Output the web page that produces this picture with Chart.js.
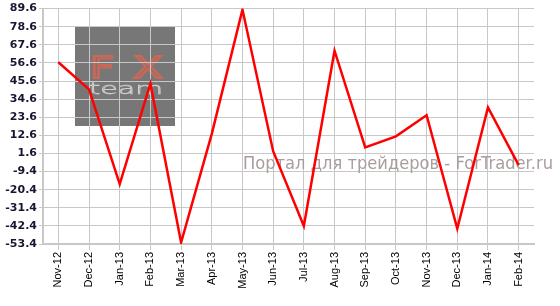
<!DOCTYPE html>
<html>
<head>
<meta charset="utf-8">
<script src="https://cdn.jsdelivr.net/npm/chart.js@4"></script>
<style>
  html, body { margin: 0; padding: 0; background: #fff; }
  #wrap { width: 560px; height: 306px; position: relative; }
</style>
</head>
<body>
<div id="wrap"><canvas id="chart"></canvas></div>
<script>
// months shown on the x axis
const months = ['Nov-12','Dec-12','Jan-13','Feb-13','Mar-13','Apr-13','May-13','Jun-13',
  'Jul-13','Aug-13','Sep-13','Oct-13','Nov-13','Dec-13','Jan-14','Feb-14'];
// monthly values
const values = [57, 40.5, -17, 44, -52.5, 13.5, 89, 3, -42.5, 64, 5.3, 12, 24.8, -44, 29.5, -5.5];
// y axis tick labels
const yTicks = [-53.4, -42.4, -31.4, -20.4, -9.4, 1.6, 12.6, 23.6, 34.6, 45.6, 56.6, 67.6, 78.6, 89.6];
const watermark = 'Портал для трейдеров - ForTrader.ru';

// stretch a stroked word into a box
function strokeFit(ctx, text, x, y, w, h, font, color, lw) {
  ctx.save();
  ctx.font = font;
  const m = ctx.measureText(text);
  const th = m.actualBoundingBoxAscent + m.actualBoundingBoxDescent;
  ctx.translate(x - m.actualBoundingBoxLeft * w / m.width, y);
  ctx.scale(w / m.width, h / th);
  ctx.strokeStyle = color;
  ctx.lineWidth = lw;
  ctx.strokeText(text, 0, 0);
  ctx.restore();
}

// gray logo box behind the grid, site name over the plot
const logoPlugin = {
  id: 'logo',
  beforeDraw(chart) {
    const ctx = chart.ctx;
    ctx.save();
    ctx.fillStyle = '#777777';
    ctx.fillRect(75, 26, 100, 100);
    ctx.restore();
    strokeFit(ctx, 'F', 87, 78, 24, 22, '40px "DejaVu Sans"', 'rgba(220,100,80,0.85)', 2.6);
    strokeFit(ctx, 'X', 132, 78, 30, 22, '40px "DejaVu Sans"', 'rgba(220,100,80,0.85)', 2.6);
    strokeFit(ctx, 'team', 88, 94, 74, 11, '200 30px "DejaVu Sans"', '#cfcfcf', 1.1);
  },
  beforeDatasetsDraw(chart) {
    const ctx = chart.ctx;
    ctx.save();
    ctx.font = '17px "DejaVu Sans"';
    ctx.fillStyle = '#a99d9d';
    ctx.fillText(watermark, 243, 169, 310);
    ctx.restore();
  }
};

new Chart(document.getElementById('chart'), {
  type: 'line',
  data: {
    labels: months,
    datasets: [{
      data: values,
      borderColor: '#ff0000',
      borderWidth: 2.5,
      pointRadius: 0,
      tension: 0,
      fill: false
    }]
  },
  options: {
    responsive: true,
    maintainAspectRatio: false,
    animation: false,
    layout: { padding: { top: 7, right: 26, left: 0, bottom: 0 } },
    plugins: { legend: { display: false }, tooltip: { enabled: false } },
    scales: {
      x: {
        offset: true,
        afterFit(scale) { scale.height = 62; },
        grid: { display: true, drawOnChartArea: true, offset: false, color: '#c8c8c8', lineWidth: 1, tickLength: 6 },
        border: { color: '#c8c8c8', width: 2 },
        ticks: {
          color: '#000',
          font: { family: 'Liberation Sans', size: 11 },
          minRotation: 90, maxRotation: 90, autoSkip: false, padding: 2
        }
      },
      y: {
        min: -53.4,
        max: 89.6,
        afterFit(scale) { scale.width = 43; },
        afterBuildTicks(scale) { scale.ticks = yTicks.map(v => ({ value: v })); },
        grid: { display: true, drawOnChartArea: true, color: '#c8c8c8', lineWidth: 1, tickLength: 4 },
        border: { color: '#c8c8c8', width: 2 },
        ticks: {
          color: '#161630',
          font: { family: 'DejaVu Sans', size: 11, weight: 'bold' },
          padding: 2,
          callback: v => v.toFixed(1)
        }
      }
    }
  },
  plugins: [logoPlugin]
});
</script>
</body>
</html>
